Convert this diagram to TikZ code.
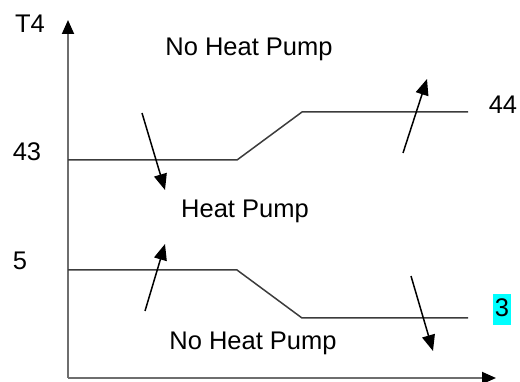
\documentclass[tikz,border=0pt]{standalone}
\usepackage{fontspec}
\setmainfont{Liberation Sans}
\usetikzlibrary{arrows.meta}
\definecolor{hl}{RGB}{0,255,255}
\definecolor{axisgray}{RGB}{110,110,110}
\definecolor{linegray}{RGB}{60,60,60}
\begin{document}
\begin{tikzpicture}[x=1pt,y=-1pt,
  lbl/.style={inner sep=0pt,anchor=base,font=\fontsize{25.5}{28}\selectfont},
  axis/.style={draw=axisgray,line width=1.8pt,-{Triangle[length=14pt,width=12pt,color=black]}},
  limit/.style={draw=linegray,line width=1.5pt},
  movearrow/.style={draw=black,line width=1.5pt,-{Triangle[length=16pt,width=13pt]}}]
\useasboundingbox (0,0) rectangle (520,382);
% axes
\coordinate (o) at (68,378);
\coordinate (ytip) at (68,20);
\coordinate (xtip) at (496,378);
\draw[axis] (o) -- (ytip);
\draw[axis] (o) -- (xtip);
% upper limit line
\coordinate (u0) at (68,160);
\coordinate (u1) at (237,160);
\coordinate (u2) at (302,112);
\coordinate (u3) at (468,112);
\draw[limit] (u0) -- (u1) -- (u2) -- (u3);
% lower limit line
\coordinate (l0) at (68,270);
\coordinate (l1) at (237,270);
\coordinate (l2) at (302,318);
\coordinate (l3) at (468,318);
\draw[limit] (l0) -- (l1) -- (l2) -- (l3);
% shift arrows
\coordinate (a1s) at (142,113); \coordinate (a1e) at (165,190);
\coordinate (a2s) at (403,153); \coordinate (a2e) at (427,79);
\coordinate (a3s) at (145,311); \coordinate (a3e) at (165,244);
\coordinate (a4s) at (411,276); \coordinate (a4e) at (433,351);
\draw[movearrow] (a1s) -- (a1e);
\draw[movearrow] (a2s) -- (a2e);
\draw[movearrow] (a3s) -- (a3e);
\draw[movearrow] (a4s) -- (a4e);
% labels
\node[lbl] (t4) at (30,33) {T4};
\node[lbl] (v43) at (27,161) {43};
\node[lbl] (v5) at (20,270) {5};
\node[lbl] (v44) at (503,114) {44};
\node[lbl,fill=hl,text height=22pt,text depth=7pt,inner ysep=1pt,minimum width=18pt] (v3) at (502,317) {3};
\node[lbl] (nhp1) at (249,56) {No Heat Pump};
\node[lbl] (hp) at (245,218) {Heat Pump};
\node[lbl] (nhp2) at (253,350) {No Heat Pump};
\end{tikzpicture}
\end{document}
